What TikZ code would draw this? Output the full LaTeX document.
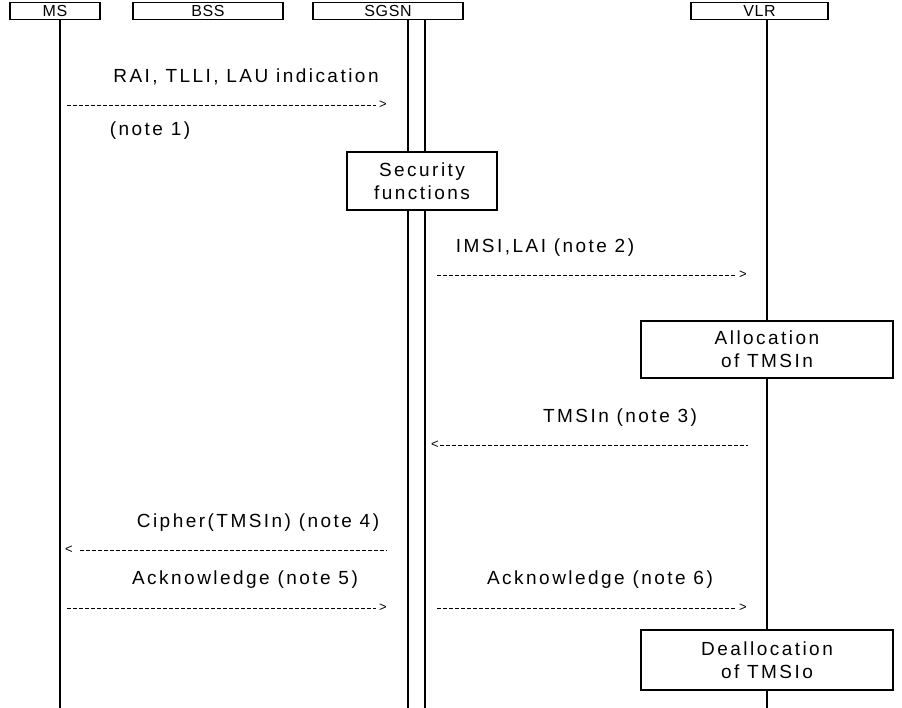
\documentclass[tikz,border=0pt]{standalone}
\usepackage{fontspec}
\setmainfont{Liberation Sans}[LetterSpace=13]
\begin{document}
\begin{tikzpicture}[x=1pt,y=-1pt,
  every node/.style={font=\fontsize{19}{23}\selectfont, inner sep=0pt, text=black},
  hdr/.style={draw, line width=1.2pt, minimum height=17pt,
    font=\fontsize{16}{18}\selectfont\addfontfeature{LetterSpace=4}},
  actbox/.style={draw, fill=white, line width=1.2pt, align=center},
  life/.style={line width=1.2pt},
  msg/.style={line width=0.9pt, dash pattern=on 4pt off 2pt},
  tip/.style={font=\fontsize{13}{13}\selectfont}
]
\useasboundingbox (0,0) rectangle (902,708);
\fill[white] (0,0) rectangle (902,708);

% header boxes
\node[hdr, minimum width=90pt]  (ms)   at (55,11)    {MS};
\node[hdr, minimum width=150pt] (bss)  at (208,11)   {BSS};
\node[hdr, minimum width=150pt] (sgsn) at (388,11)   {SGSN};
\node[hdr, minimum width=137pt] (vlr)  at (759.5,11) {VLR};

% lifelines
\coordinate (mstop) at (60,19.5);   \coordinate (msbot) at (60,708);
\coordinate (sgatop) at (408,19.5); \coordinate (sgabot) at (408,708);
\coordinate (sgbtop) at (425,19.5); \coordinate (sgbbot) at (425,708);
\coordinate (vlrtop) at (767,19.5); \coordinate (vlrbot) at (767,708);
\draw[life] (mstop) -- (msbot);
\draw[life] (sgatop) -- (sgabot);
\draw[life] (sgbtop) -- (sgbbot);
\draw[life] (vlrtop) -- (vlrbot);

% activity boxes
\node[actbox, minimum width=150pt, minimum height=58pt] (sec)   at (422,181) {Security\\functions};
\node[actbox, minimum width=252pt, minimum height=57pt] (alloc) at (767,349.5) {Allocation\\of TMSIn};
\node[actbox, minimum width=252pt, minimum height=60pt] (dealloc) at (767,660) {Deallocation\\of TMSIo};

% message 1
\node (l1) at (246,77) {RAI, TLLI, LAU indication};
\coordinate (m1s) at (67,105); \coordinate (m1e) at (376,105);
\draw[msg] (m1s) -- (m1e);
\node[tip] (t1) at (383,105) {>};
\node (n1) at (150,131) {(note 1)};

% message 2
\node (l2) at (545,248) {IMSI,LAI (note 2)};
\coordinate (m2s) at (437,275); \coordinate (m2e) at (736,275);
\draw[msg] (m2s) -- (m2e);
\node[tip] (t2) at (743,275) {>};

% message 3
\node (l3) at (620,418) {TMSIn (note 3)};
\coordinate (m3s) at (440,445); \coordinate (m3e) at (748,445);
\draw[msg] (m3s) -- (m3e);
\node[tip] (t3) at (435,445) {<};

% message 4
\node (l4) at (258,523) {Cipher(TMSIn) (note 4)};
\coordinate (m4s) at (80,550); \coordinate (m4e) at (387,550);
\draw[msg] (m4s) -- (m4e);
\node[tip] (t4) at (69,550) {<};

% message 5
\node (l5) at (245,580) {Acknowledge (note 5)};
\coordinate (m5s) at (67,608); \coordinate (m5e) at (376,608);
\draw[msg] (m5s) -- (m5e);
\node[tip] (t5) at (383,608) {>};

% message 6
\node (l6) at (600,580) {Acknowledge (note 6)};
\coordinate (m6s) at (437,608); \coordinate (m6e) at (736,608);
\draw[msg] (m6s) -- (m6e);
\node[tip] (t6) at (743,608) {>};
\end{tikzpicture}
\end{document}
